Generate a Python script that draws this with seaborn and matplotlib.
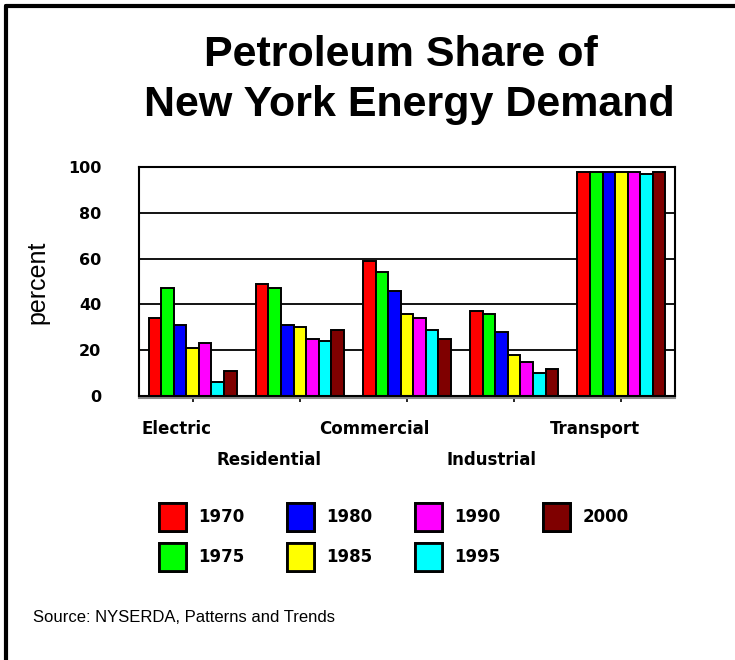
import pandas as pd
import matplotlib
matplotlib.use("Agg")
import matplotlib.pyplot as plt
import matplotlib.patheffects as pe
from matplotlib.patches import Patch
from matplotlib.lines import Line2D
import seaborn as sns

# data
sectors = ["Electric", "Residential", "Commercial", "Industrial", "Transport"]
years = ["1970", "1975", "1980", "1985", "1990", "1995", "2000"]
share_1970 = [34, 49, 59, 37, 98]
share_1975 = [47, 47, 54, 36, 98]
share_1980 = [31, 31, 46, 28, 98]
share_1985 = [21, 30, 36, 18, 98]
share_1990 = [23, 25, 34, 15, 98]
share_1995 = [6, 24, 29, 10, 97]
share_2000 = [11, 29, 25, 12, 98]
colors = ["#FF0000", "#00FF00", "#0000FF", "#FFFF00", "#FF00FF", "#00FFFF", "#7F0000"]

series = [share_1970, share_1975, share_1980, share_1985, share_1990, share_1995, share_2000]
rows = []
for yr, vals in zip(years, series):
    for sec, v in zip(sectors, vals):
        rows.append({"sector": sec, "year": yr, "percent": v})
df = pd.DataFrame(rows)

sns.set_style("white")
plt.rcParams["font.family"] = ["Liberation Sans", "DejaVu Sans"]
plt.rcParams["text.color"] = "black"
plt.rcParams["xtick.color"] = "black"
plt.rcParams["ytick.color"] = "black"

fig = plt.figure(figsize=(7.35, 6.6), dpi=100)
ax = fig.add_axes([139 / 735, 1 - 396 / 660, 536 / 735, 229 / 660])

sns.barplot(data=df, x="sector", y="percent", hue="year", order=sectors,
            hue_order=years, palette=colors, width=0.82, edgecolor="black",
            linewidth=1.4, saturation=1, legend=False, ax=ax)

ax.set_ylim(0, 100)
ax.set_xlim(-0.5, 4.5)
ax.set_yticks([0, 20, 40, 60, 80, 100])
ax.yaxis.grid(True, color="black", linewidth=1.3)
ax.set_axisbelow(True)
ax.tick_params(axis="y", length=0, pad=27)
ax.tick_params(axis="x", direction="out", length=4, width=1.2, color="black", bottom=True)
for lab in ax.get_yticklabels():
    lab.set_fontfamily("DejaVu Sans")
    lab.set_fontweight("bold")
    lab.set_fontsize(11.5)
ax.set_xticks(range(len(sectors)))
ax.set_xticklabels([])
ax.set_xlabel("")
ax.set_ylabel("")
for s in ax.spines.values():
    s.set_visible(True)
    s.set_color("black")
    s.set_linewidth(1.5)
ax.spines["bottom"].set_path_effects([
    pe.SimpleLineShadow(offset=(0, -1.6), shadow_color="#888888", alpha=1),
    pe.Normal()])

# staggered category labels
label_x = [-0.148, 0.717, 1.699, 2.784, 3.754]
label_y = [-0.144, -0.279, -0.144, -0.279, -0.144]
for name, lx, ly in zip(sectors, label_x, label_y):
    ax.text(lx, ly, name, transform=ax.get_xaxis_transform(), ha="center",
            va="center", fontsize=12, fontweight="bold", family="DejaVu Sans")

fig.text(37.5 / 735, 1 - 282 / 660, "percent", rotation=90, ha="center",
         va="center", fontsize=18)

fig.text(401 / 735, 1 - 55 / 660, "Petroleum Share of", ha="center",
         va="center", fontsize=31, fontweight="bold")
fig.text(409 / 735, 1 - 105 / 660, "New York Energy Demand", ha="center",
         va="center", fontsize=31, fontweight="bold")

handles = []
for c in colors:
    handles.append(Patch(facecolor=c, edgecolor="black", linewidth=2.0,
                         path_effects=[pe.withSimplePatchShadow(offset=(0, -1.6), shadow_rgbFace=c, alpha=1),
                                       pe.Normal()]))
leg = fig.legend(handles, years, loc="upper left",
                 bbox_to_anchor=(159 / 735, 1 - 503 / 660), ncol=4, frameon=False,
                 prop={"family": "DejaVu Sans", "weight": "bold", "size": 12},
                 handlelength=1.62, handleheight=2.2, handletextpad=0.72,
                 columnspacing=2.57, labelspacing=0.74, borderpad=0, borderaxespad=0)

fig.text(33 / 735, 1 - 618 / 660, "Source: NYSERDA, Patterns and Trends",
         ha="left", va="center", fontsize=12)

# outer frame (left and top edges)
fig.add_artist(Line2D([5.5 / 735, 5.5 / 735], [0, 1 - 5.5 / 660], color="black",
                      linewidth=3.0, transform=fig.transFigure))
fig.add_artist(Line2D([5.5 / 735, 1], [1 - 5.5 / 660, 1 - 5.5 / 660], color="black",
                      linewidth=3.0, transform=fig.transFigure))

fig.savefig("out.png", dpi=100)
